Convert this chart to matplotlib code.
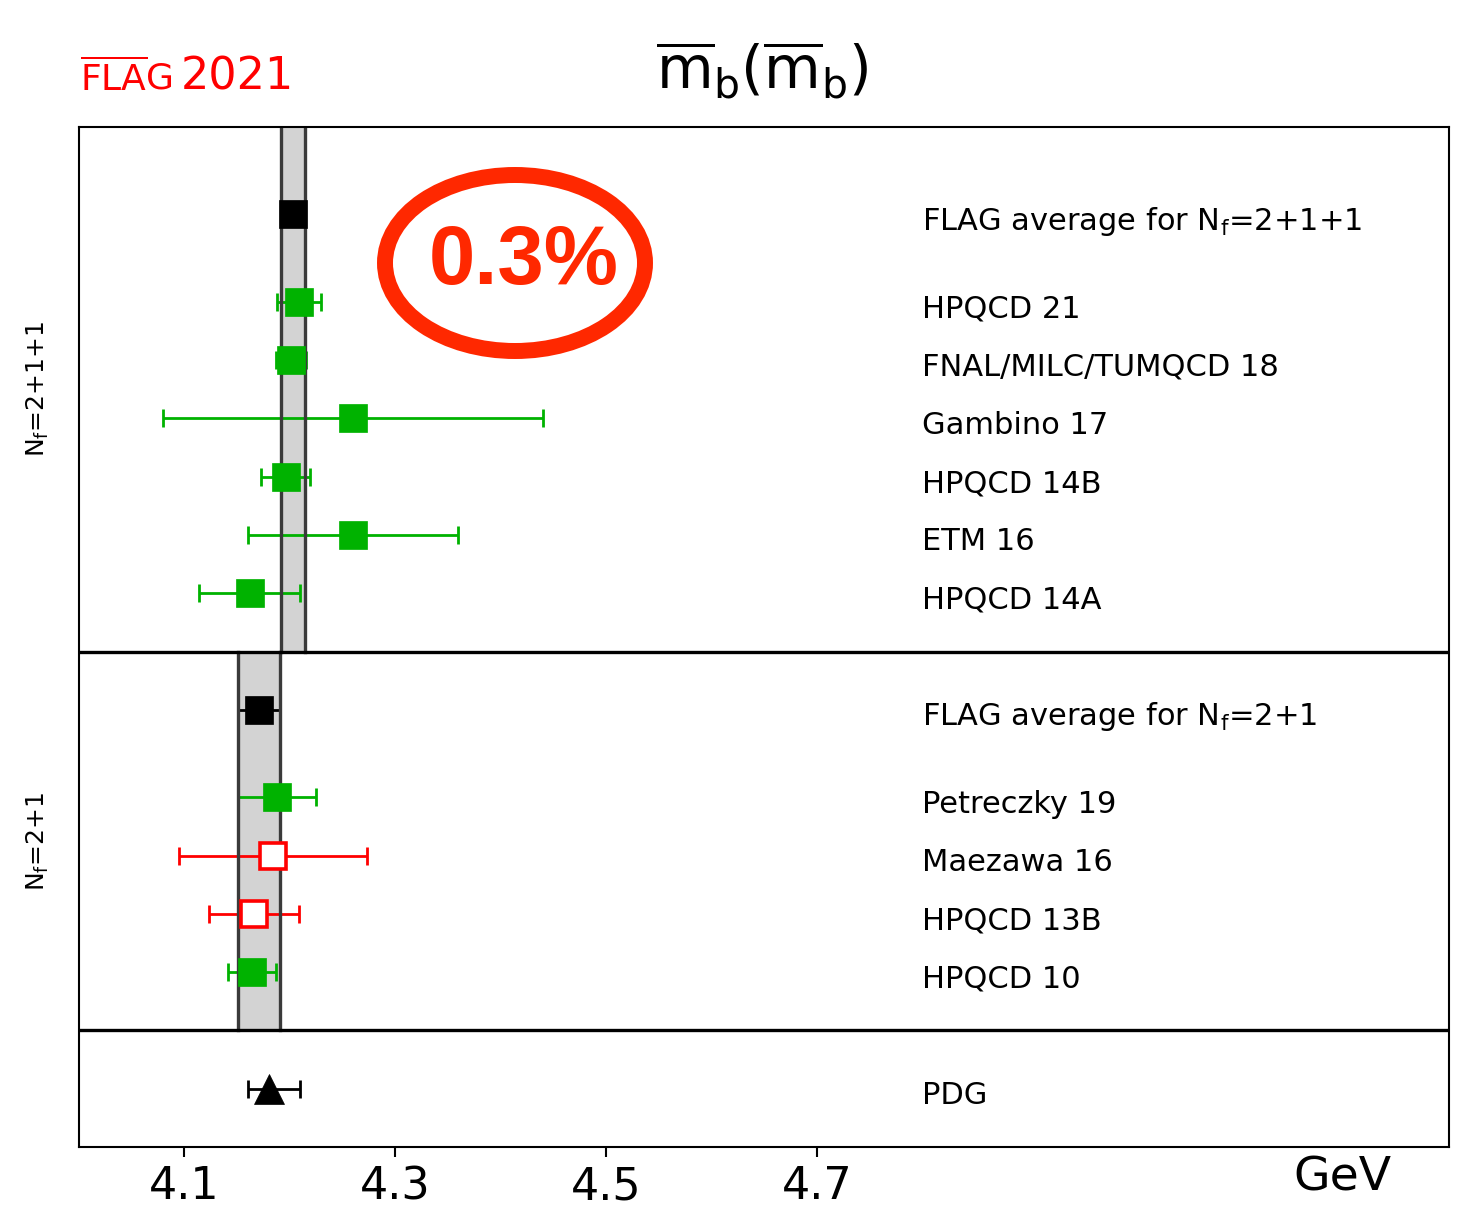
import matplotlib
matplotlib.use("Agg")
import matplotlib.pyplot as plt
from matplotlib.patches import Ellipse

plt.rcParams["font.family"] = ["DejaVu Sans"]
plt.rcParams["mathtext.fontset"] = "dejavusans"

# m_b(m_b) in GeV: central values and symmetric uncertainties
labels_4f = ["HPQCD 21", "FNAL/MILC/TUMQCD 18", "Gambino 17", "HPQCD 14B", "ETM 16", "HPQCD 14A"]
values_4f = [4.209, 4.201, 4.26, 4.196, 4.26, 4.162]
errors_4f = [0.021, 0.014, 0.18, 0.023, 0.10, 0.048]
colors_4f = ["green", "green", "green", "green", "green", "green"]

labels_3f = ["Petreczky 19", "Maezawa 16", "HPQCD 13B", "HPQCD 10"]
values_3f = [4.188, 4.184, 4.166, 4.164]
errors_3f = [0.037, 0.089, 0.043, 0.023]
colors_3f = ["green", "red", "red", "green"]

avg_4f = (4.203, 0.011)
avg_3f = (4.171, 0.020)
pdg = (4.18, 0.02, 0.03)  # value, lower, upper

tick_values = [4.1, 4.3, 4.5, 4.7]
tick_labels = ["4.1", "4.3", "4.5", "4.7"]

GREEN = "#00b200"
RED = "#ff0000"
palette = {"green": GREEN, "red": RED}

NF4 = r"N$_\mathrm{f}$=2+1+1"
NF3 = r"N$_\mathrm{f}$=2+1"

fig = plt.figure(figsize=(14.61, 12.11), dpi=100)
ax = fig.add_axes([79 / 1461, 1 - 1147 / 1211, 1370 / 1461, 1020 / 1211])
ax.set_xlim(4.0, 5.3)
ax.set_ylim(0, 17.5)

label_x = 4.80
label_dy = -0.12
fs_lab = 22

def band(y0, y1, c, e):
    ax.fill_betweenx([y0, y1], c - e, c + e, color="#d3d3d3", lw=0, zorder=1)
    for xe in (c - e, c + e):
        ax.plot([xe, xe], [y0, y1], color="#3a3a3a", lw=2.4, zorder=2.5)

def point(x, y, err, color, marker="s", ms=20, filled=True):
    col = palette.get(color, color)
    ax.errorbar([x], [y], xerr=[[err[0]], [err[1]]], fmt="none", ecolor=col,
                elinewidth=2.0, capsize=6.5, capthick=2.0, zorder=2)
    if filled:
        ax.plot([x], [y], marker=marker, ms=ms, color=col, mec=col, mew=0.5, ls="none", zorder=3)
    else:
        ax.plot([x], [y], marker=marker, ms=ms - 1, mfc="white", mec=col, mew=2.6, ls="none", zorder=3)

# Nf = 2+1+1 section
band(8.5, 17.5, *avg_4f)
point(avg_4f[0], 16.0, (avg_4f[1], avg_4f[1]), "black")
ax.text(label_x, 16.0 + label_dy, "FLAG average for " + NF4, fontsize=fs_lab, va="center")
for i, (lab, v, e, c) in enumerate(zip(labels_4f, values_4f, errors_4f, colors_4f)):
    y = 14.5 - i
    point(v, y, (e, e), c, filled=(c == "green"))
    ax.text(label_x, y + label_dy, lab, fontsize=fs_lab, va="center")

# Nf = 2+1 section
band(2.0, 8.5, *avg_3f)
point(avg_3f[0], 7.5, (avg_3f[1], avg_3f[1]), "black")
ax.text(label_x, 7.5 + label_dy, "FLAG average for " + NF3, fontsize=fs_lab, va="center")
for i, (lab, v, e, c) in enumerate(zip(labels_3f, values_3f, errors_3f, colors_3f)):
    y = 6.0 - i
    point(v, y, (e, e), c, filled=(c == "green"))
    ax.text(label_x, y + label_dy, lab, fontsize=fs_lab, va="center")

# PDG
point(pdg[0], 1.0, (pdg[1], pdg[2]), "black", marker="^", ms=21)
ax.text(label_x, 1.0 + label_dy, "PDG", fontsize=fs_lab, va="center")

for ys in (2.0, 8.5):
    ax.axhline(ys, color="black", lw=2.4, zorder=4)

for sp in ax.spines.values():
    sp.set_linewidth(1.5)

ax.set_yticks([])
ax.set_xticks(tick_values)
ax.set_xticklabels(tick_labels, fontsize=32)
ax.tick_params(axis="x", direction="out", length=7, width=1.5, pad=6)

# section labels
ax.text(-0.0297, 13.0, NF4, transform=ax.get_yaxis_transform(),
        rotation=90, fontsize=18, ha="center", va="center")
ax.text(-0.0297, 5.25, NF3, transform=ax.get_yaxis_transform(),
        rotation=90, fontsize=18, ha="center", va="center")

fig.text(1342 / 1461, 1 - 1178 / 1211, "GeV", fontsize=34, ha="center", va="center")

# headings
fig.text(762 / 1461, 1 - 70 / 1211, r"$\overline{\mathrm{m}}_\mathrm{b}(\overline{\mathrm{m}}_\mathrm{b})$",
         fontsize=42, ha="center", va="center")
fig.text(80 / 1461, 1 - 90 / 1211, r"$\overline{\mathrm{FLA}}\mathrm{G}$", fontsize=26,
         color="red", ha="left", va="baseline")
fig.text(181 / 1461, 1 - 90 / 1211, "2021", fontsize=32, color="red", ha="left", va="baseline")

# precision badge
fig.patches.append(Ellipse((515 / 1461, 1 - 263 / 1211), 260 / 1461, 176 / 1211,
                           transform=fig.transFigure, fill=False, edgecolor="#ff2800", lw=11.5))
fig.text(524 / 1461, 1 - 262 / 1211, "0.3%", fontsize=60, fontweight="bold",
         family="Liberation Sans", color="#ff2800", ha="center", va="center")

fig.savefig("out.png", dpi=100)
